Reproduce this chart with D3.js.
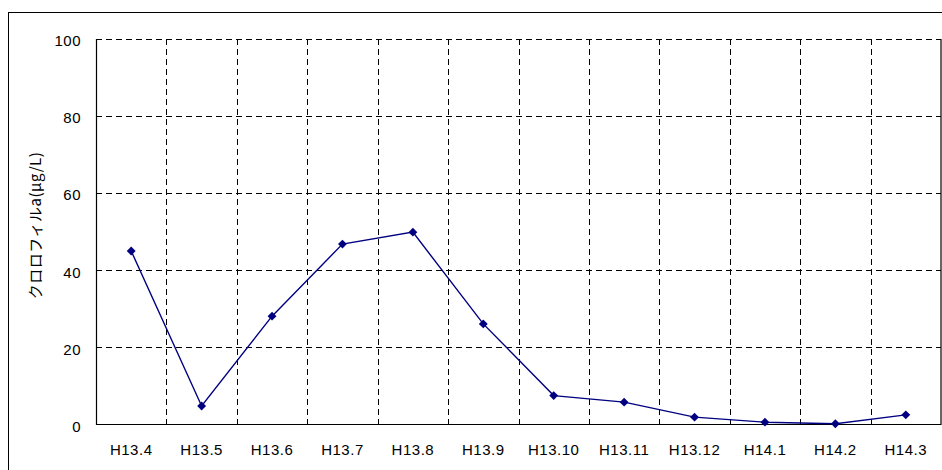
<!DOCTYPE html>
<html>
<head>
<meta charset="utf-8">
<script src="https://cdn.jsdelivr.net/npm/d3@7"></script>
<style>
  body { margin: 0; background: #fff; }
  svg { display: block; }
</style>
</head>
<body>
<svg id="chart" width="942" height="470"></svg>
<script>
// month labels (Heisei year.month)
const months = ['H13.4', 'H13.5', 'H13.6', 'H13.7', 'H13.8', 'H13.9', 'H13.10', 'H13.11', 'H13.12', 'H14.1', 'H14.2', 'H14.3'];
// chlorophyll a, ug/L
const chlA = [45.0, 4.8, 28.1, 46.8, 49.9, 26.1, 7.5, 5.8, 1.9, 0.6, 0.2, 2.5];
const yTicks = [0, 20, 40, 60, 80, 100];

const svg = d3.select('#chart');
const font = "'Liberation Sans', Arial, sans-serif";
const jpFont = "'Noto Sans CJK JP', sans-serif";
const margin = {top: 39, left: 96, right: 941, bottom: 424.5};

// outer frame, runs off the right and bottom of the picture
svg.append('rect')
  .attr('x', 8.5).attr('y', 12.5)
  .attr('width', 960).attr('height', 500)
  .attr('fill', 'none').attr('stroke', '#000').attr('stroke-width', 1);

const x = d3.scaleBand().domain(months).range([margin.left, margin.right]);
const y = d3.scaleLinear().domain([0, 100]).range([margin.bottom, margin.top]);

// horizontal dashed grid
svg.append('g')
  .selectAll('line')
  .data(yTicks.filter(d => d > 0))
  .join('line')
  .attr('x1', margin.left).attr('x2', margin.right)
  .attr('y1', d => Math.round(y(d)) + 0.5).attr('y2', d => Math.round(y(d)) + 0.5)
  .attr('stroke', '#000').attr('stroke-dasharray', '6,4');

// vertical dashed grid at category boundaries
svg.append('g')
  .selectAll('line')
  .data(months.slice(1))
  .join('line')
  .attr('x1', d => Math.round(x(d)) + 0.5).attr('x2', d => Math.round(x(d)) + 0.5)
  .attr('y1', margin.top).attr('y2', margin.bottom)
  .attr('stroke', '#000').attr('stroke-dasharray', '6,4');

// solid left, right, bottom edges
svg.append('path')
  .attr('d', `M${margin.left + 0.5},${margin.top}V${margin.bottom}H${margin.right}V${margin.top}`)
  .attr('fill', 'none').attr('stroke', '#000').attr('stroke-width', 1.2);

// y axis labels
const yAxis = d3.axisLeft(y).tickValues(yTicks).tickSize(0).tickPadding(15);
svg.append('g')
  .attr('transform', `translate(${margin.left},0)`)
  .call(yAxis)
  .call(g => g.select('.domain').remove())
  .selectAll('text')
  .attr('dy', '0.45em')
  .attr('font-family', font).attr('font-size', 15).attr('letter-spacing', 0.5).attr('fill', '#000');

// x axis labels
const xAxis = d3.axisBottom(x).tickSize(0).tickPadding(20);
svg.append('g')
  .attr('transform', `translate(0,${margin.bottom})`)
  .call(xAxis)
  .call(g => g.select('.domain').remove())
  .selectAll('text')
  .attr('font-family', font).attr('font-size', 15).attr('letter-spacing', 0.5).attr('fill', '#000');

// y axis title
svg.append('text')
  .attr('transform', `translate(41,${(153 + 298) / 2}) rotate(-90)`)
  .attr('text-anchor', 'middle')
  .attr('font-family', jpFont).attr('font-size', 15).attr('letter-spacing', 0.5).attr('fill', '#000')
  .text('クロロフィルa(μg/L)');

// series line
const cx = d => x(d) + x.bandwidth() / 2;
const line = d3.line()
  .x((d, i) => cx(months[i]))
  .y(d => y(d));

svg.append('path')
  .datum(chlA)
  .attr('d', line)
  .attr('fill', 'none')
  .attr('stroke', '#000080')
  .attr('stroke-width', 1.4);

// diamond markers
svg.append('g')
  .selectAll('path')
  .data(chlA)
  .join('path')
  .attr('d', d3.symbol().type(d3.symbolDiamond2).size(50))
  .attr('transform', (d, i) => `translate(${cx(months[i])},${y(d)})`)
  .attr('fill', '#000080');
</script>
</body>
</html>
